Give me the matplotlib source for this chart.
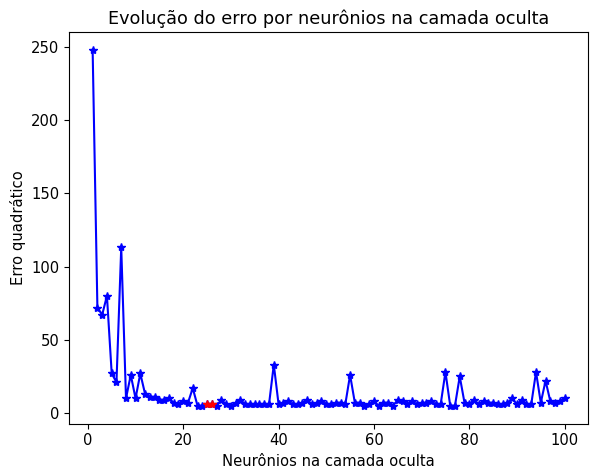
import matplotlib
matplotlib.use('Agg')
import matplotlib.pyplot as plt

plt.rcParams['font.size'] = 10.6

# Squared error for each hidden-layer size (1..100 neurons)
neurons = list(range(1, 101))
erro = [
    248, 72, 67, 80, 27, 21, 113, 10, 26, 10,
    27, 13, 11, 11, 9, 9, 10, 7, 6, 8,
    7, 17, 5, 5, 6, 6, 5, 9, 6, 5,
    7, 9, 6, 6, 6, 6, 6, 6, 33, 6,
    7, 8, 6, 6, 7, 9, 6, 7, 8, 6,
    6, 7, 7, 6, 26, 7, 7, 5, 6, 8,
    5, 7, 7, 5, 9, 8, 6, 8, 6, 7,
    7, 8, 6, 6, 28, 5, 5, 25, 7, 6,
    9, 6, 8, 7, 7, 6, 6, 7, 10, 6,
    9, 6, 6, 28, 7, 22, 8, 7, 8, 10,
]

# highlighted configurations
best_neurons = [25, 26]
best_erro = [erro[n - 1] for n in best_neurons]

fig = plt.figure(figsize=(5.9, 4.69), dpi=100)
ax = fig.add_axes([0.117, 0.097, 0.88, 0.835])
ax.plot(neurons, erro, 'b-*')
ax.plot(best_neurons, best_erro, 'r-*')

ax.set_title("Evolução do erro por neurônios na camada oculta")
ax.set_xlabel("Neurônios na camada oculta")
ax.set_ylabel("Erro quadrático")

fig.savefig("out.png", dpi=100)
plt.close(fig)
